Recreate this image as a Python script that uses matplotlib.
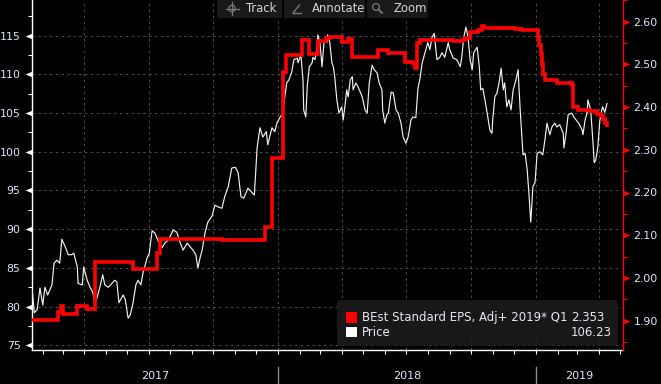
import matplotlib
matplotlib.use('Agg')
import matplotlib.pyplot as plt
import matplotlib.dates as mdates
import matplotlib.transforms as mtransforms
from matplotlib.path import Path
from matplotlib.patches import FancyBboxPatch, Rectangle, Circle
from matplotlib.ticker import MultipleLocator, FixedLocator
import numpy as np
import pandas as pd

# ---------------- data ----------------
price_dates = [
    "2017-01-17", "2017-01-20", "2017-01-24", "2017-01-28", "2017-02-01", "2017-02-04", "2017-02-08",
    "2017-02-14", "2017-02-17", "2017-02-21", "2017-02-25", "2017-02-28", "2017-03-05", "2017-03-09",
    "2017-03-14", "2017-03-17", "2017-03-22", "2017-03-23", "2017-03-29", "2017-03-31", "2017-04-05",
    "2017-04-09", "2017-04-13", "2017-04-16", "2017-04-19", "2017-04-23", "2017-04-27", "2017-04-30",
    "2017-05-05", "2017-05-10", "2017-05-14", "2017-05-17", "2017-05-20", "2017-05-26", "2017-05-29",
    "2017-06-02", "2017-06-05", "2017-06-09", "2017-06-13", "2017-06-16", "2017-06-20", "2017-06-23",
    "2017-06-29", "2017-07-02", "2017-07-06", "2017-07-10", "2017-07-14", "2017-07-20", "2017-07-24",
    "2017-07-29", "2017-08-05", "2017-08-10", "2017-08-15", "2017-08-19", "2017-08-25", "2017-08-29",
    "2017-09-02", "2017-09-06", "2017-09-09", "2017-09-12", "2017-09-15", "2017-09-19", "2017-09-23",
    "2017-09-29", "2017-10-03", "2017-10-07", "2017-10-13", "2017-10-17", "2017-10-22", "2017-10-27",
    "2017-11-01", "2017-11-05", "2017-11-09", "2017-11-13", "2017-11-19", "2017-11-25", "2017-11-28",
    "2017-12-02", "2017-12-06", "2017-12-10", "2017-12-15", "2017-12-17", "2017-12-23", "2017-12-27",
    "2017-12-30", "2018-01-03", "2018-01-08", "2018-01-10", "2018-01-13", "2018-01-16", "2018-01-20",
    "2018-01-23", "2018-01-28", "2018-01-29", "2018-02-02", "2018-02-05", "2018-02-06", "2018-02-09",
    "2018-02-11", "2018-02-14", "2018-02-18", "2018-02-19", "2018-02-22", "2018-02-25", "2018-02-26",
    "2018-03-01", "2018-03-04", "2018-03-07", "2018-03-11", "2018-03-12", "2018-03-15", "2018-03-18",
    "2018-03-20", "2018-03-22", "2018-03-25", "2018-03-28", "2018-04-01", "2018-04-03", "2018-04-06",
    "2018-04-08", "2018-04-10", "2018-04-13", "2018-04-16", "2018-04-17", "2018-04-21", "2018-04-24",
    "2018-04-30", "2018-05-04", "2018-05-07", "2018-05-10", "2018-05-14", "2018-05-17", "2018-05-21",
    "2018-05-24", "2018-05-28", "2018-05-29", "2018-06-01", "2018-06-04", "2018-06-06", "2018-06-10",
    "2018-06-13", "2018-06-17", "2018-06-20", "2018-06-24", "2018-06-27", "2018-07-01", "2018-07-04",
    "2018-07-05", "2018-07-08", "2018-07-11", "2018-07-15", "2018-07-18", "2018-07-21", "2018-07-24",
    "2018-07-28", "2018-08-01", "2018-08-04", "2018-08-07", "2018-08-10", "2018-08-14", "2018-08-18",
    "2018-08-21", "2018-08-25", "2018-08-30", "2018-09-01", "2018-09-06", "2018-09-11", "2018-09-16",
    "2018-09-18", "2018-09-21", "2018-09-24", "2018-09-27", "2018-09-30", "2018-10-03", "2018-10-05",
    "2018-10-10", "2018-10-13", "2018-10-15", "2018-10-18", "2018-10-21", "2018-10-24", "2018-10-28",
    "2018-10-31", "2018-11-01", "2018-11-04", "2018-11-07", "2018-11-10", "2018-11-13", "2018-11-16",
    "2018-11-18", "2018-11-21", "2018-11-24", "2018-11-27", "2018-11-30", "2018-12-04", "2018-12-07",
    "2018-12-10", "2018-12-13", "2018-12-14", "2018-12-17", "2018-12-20", "2018-12-22", "2018-12-25",
    "2018-12-28", "2018-12-31", "2019-01-03", "2019-01-07", "2019-01-11", "2019-01-14", "2019-01-17",
    "2019-01-21", "2019-01-24", "2019-01-28", "2019-01-31", "2019-02-04", "2019-02-09", "2019-02-10",
    "2019-02-13", "2019-02-16", "2019-02-21", "2019-02-24", "2019-03-01", "2019-03-03", "2019-03-08",
    "2019-03-09", "2019-03-12", "2019-03-15", "2019-03-16", "2019-03-20", "2019-03-23", "2019-03-25",
    "2019-03-27", "2019-03-30", "2019-04-02", "2019-04-05", "2019-04-06", "2019-04-09", "2019-04-12",
]
price_values = [
    82.1, 79.2, 79.6, 82.4, 80.2, 82.5, 81.5,
    82.8, 85.6, 86.0, 85.6, 88.7, 87.7, 86.7,
    86.7, 86.9, 85.1, 83.0, 82.8, 85.1, 83.4,
    82.5, 81.8, 80.5, 81.2, 82.5, 84.1, 82.8,
    82.5, 83.0, 83.4, 83.2, 80.5, 81.5, 80.9,
    78.5, 78.9, 80.5, 82.8, 83.4, 82.8, 84.3,
    86.3, 86.9, 89.8, 89.5, 88.6, 87.6, 88.2,
    88.6, 89.9, 89.6, 88.2, 87.3, 88.2, 87.7,
    87.3, 86.7, 85.0, 86.3, 87.3, 89.5, 90.9,
    91.7, 93.1, 92.9, 92.7, 94.2, 95.5, 97.9,
    98.0, 97.3, 94.2, 94.0, 95.3, 94.7, 94.4,
    100.6, 103.1, 101.9, 102.6, 100.9, 103.1, 102.6,
    103.7, 104.4, 105.1, 107.0, 108.9, 109.3, 110.3,
    111.9, 112.1, 111.5, 112.5, 109.3, 105.4, 104.5,
    108.4, 111.0, 111.5, 112.2, 111.9, 113.5, 115.1,
    114.1, 111.0, 114.4, 114.1, 115.1, 114.1, 111.5,
    111.0, 109.7, 106.7, 105.0, 105.8, 104.1, 106.3,
    108.0, 107.1, 109.3, 109.7, 108.0, 108.9, 108.4,
    107.1, 105.4, 105.0, 108.9, 111.2, 110.6, 110.2,
    108.9, 108.0, 105.4, 103.7, 104.8, 105.0, 107.7,
    107.6, 105.4, 105.0, 103.7, 101.9, 101.1, 101.9,
    102.4, 104.1, 104.5, 104.4, 108.2, 109.5, 111.5,
    112.8, 114.1, 113.2, 114.8, 115.3, 111.9, 112.2,
    112.8, 112.2, 114.1, 113.2, 112.1, 111.9, 111.0,
    112.1, 114.8, 116.1, 114.8, 111.9, 110.6, 112.8,
    113.5, 111.0, 108.0, 108.2, 106.7, 105.1, 102.8,
    102.4, 104.1, 107.1, 107.6, 108.9, 110.8, 108.0,
    108.9, 105.8, 106.7, 105.4, 108.0, 109.3, 110.6,
    105.4, 101.0, 99.6, 99.8, 97.6, 95.1, 90.9,
    95.5, 96.0, 99.8, 100.0, 99.6, 101.5, 103.7,
    102.2, 103.2, 103.7, 103.2, 103.5, 102.4, 100.5,
    102.4, 104.8, 105.0, 104.5, 103.9, 103.7, 102.8,
    102.2, 104.1, 105.1, 106.7, 105.4, 101.5, 98.6,
    98.9, 100.5, 104.1, 105.5, 105.8, 105.1, 106.23,
]

eps_dates = [
    "2017-01-17", "2017-02-23", "2017-02-27", "2017-03-02", "2017-03-22", "2017-04-05", "2017-04-16",
    "2017-06-09", "2017-07-13", "2017-07-17", "2017-10-13", "2017-12-13", "2017-12-23", "2018-01-08",
    "2018-01-12", "2018-02-04", "2018-02-14", "2018-02-26", "2018-03-10", "2018-03-15", "2018-04-01",
    "2018-04-10", "2018-04-16", "2018-05-22", "2018-06-06", "2018-06-30", "2018-07-10", "2018-07-14",
    "2018-07-17", "2018-07-21", "2018-09-06", "2018-09-18", "2018-09-23", "2018-09-30", "2018-10-11",
    "2018-10-17", "2018-10-20", "2018-12-03", "2018-12-13", "2019-01-04", "2019-01-06", "2019-01-08",
    "2019-01-10", "2019-01-12", "2019-01-14", "2019-01-31", "2019-02-21", "2019-02-23", "2019-03-02",
    "2019-03-19", "2019-03-29", "2019-04-03", "2019-04-06", "2019-04-09", "2019-04-12",
]
eps_values = [
    1.901, 1.921, 1.933, 1.915, 1.935, 1.927, 2.037,
    2.021, 2.058, 2.091, 2.088, 2.120, 2.281, 2.482,
    2.522, 2.558, 2.524, 2.555, 2.562, 2.565, 2.553,
    2.559, 2.518, 2.534, 2.526, 2.506, 2.503, 2.492,
    2.550, 2.558, 2.555, 2.558, 2.562, 2.576, 2.581,
    2.590, 2.585, 2.583, 2.581, 2.565, 2.545, 2.525,
    2.500, 2.478, 2.463, 2.456, 2.452, 2.401, 2.393,
    2.392, 2.385, 2.380, 2.372, 2.362, 2.353,
]

left_ticks = [75, 80, 85, 90, 95, 100, 105, 110, 115]
right_ticks = [1.90, 2.00, 2.10, 2.20, 2.30, 2.40, 2.50, 2.60]
years = [2017, 2018, 2019]
legend_eps_label = "BEst Standard EPS, Adj+ 2019* Q1"
legend_eps_last = "2.353"
legend_price_label = "Price"
legend_price_last = "106.23"
toolbar_labels = ["Track", "Annotate", "Zoom"]

# ---------------- styling ----------------
W, H = 661, 384
BG = "#000000"
TXT = "#dde6fb"
RED = "#ff0000"
GRID = "#4d4d4d"

plt.rcParams['font.family'] = ['DejaVu Sans']

fig = plt.figure(figsize=(W / 100, H / 100), dpi=100, facecolor=BG)
ax = fig.add_axes([32 / W, 34 / H, (623 - 32) / W, 350 / H])
ax.set_facecolor(BG)
ax2 = ax.twinx()

pdates = pd.to_datetime(price_dates)
edates = pd.to_datetime(eps_dates)

ax.plot(pdates, price_values, color="#f0f0f0", lw=0.85, zorder=3)
ax2.plot(edates, eps_values, color=RED, lw=2.6, drawstyle="steps-post",
         solid_joinstyle="miter", solid_capstyle="butt", zorder=4)

x0 = pd.Timestamp("2017-01-16 17:00")
x1 = pd.Timestamp("2019-05-04 19:00")
ax.set_xlim(x0, x1)
ax.set_ylim(74.39, 119.61)
ax2.set_ylim(1.831, 2.651)

# x axis: quarterly grid, monthly ticks
ax.xaxis.set_major_locator(mdates.MonthLocator(bymonth=[1, 4, 7, 10]))
ax.xaxis.set_minor_locator(mdates.MonthLocator())
ax.tick_params(axis="x", which="both", length=3, width=0.8, color="white",
               labelbottom=False, direction="out")

# left axis
ax.yaxis.set_major_locator(FixedLocator(left_ticks))
ax.yaxis.set_minor_locator(MultipleLocator(2.5))
ax.set_yticklabels([str(v) for v in left_ticks])
ax.tick_params(axis="y", which="major", length=0, pad=8.2, labelsize=7.9, labelcolor=TXT)
ax.tick_params(axis="y", which="minor", length=3, width=0.8, color="white")

# right axis
ax2.yaxis.set_major_locator(FixedLocator(right_ticks))
ax2.yaxis.set_minor_locator(MultipleLocator(0.05))
ax2.set_yticklabels([f"{v:.2f}" for v in right_ticks])
ax2.tick_params(axis="y", which="major", length=0, pad=7.5, labelsize=7.9, labelcolor=TXT)
ax2.tick_params(axis="y", which="minor", length=3, width=0.8, color=RED)

ax.grid(True, which="major", axis="both", color=GRID, lw=0.7, linestyle=(0, (2.5, 3.5)))
ax.set_axisbelow(True)

for s in ["top", "right"]:
    ax.spines[s].set_visible(False)
ax.spines["left"].set_color("white")
ax.spines["bottom"].set_color("white")
ax.spines["left"].set_linewidth(1.0)
ax.spines["bottom"].set_linewidth(1.0)
for s in ["top", "left", "bottom"]:
    ax2.spines[s].set_visible(False)
ax2.spines["right"].set_color(RED)
ax2.spines["right"].set_linewidth(1.0)

# triangle tick markers
tri_left = Path([(-1, 0), (0, 0.4), (0, -0.4), (-1, 0)],
                [Path.MOVETO, Path.LINETO, Path.LINETO, Path.CLOSEPOLY])
tri_right = Path([(1, 0), (0, 0.4), (0, -0.4), (1, 0)],
                 [Path.MOVETO, Path.LINETO, Path.LINETO, Path.CLOSEPOLY])
bl = mtransforms.blended_transform_factory(ax.transAxes, ax.transData)
ax.plot([0] * len(left_ticks), left_ticks, linestyle="none", marker=tri_left,
        markersize=10, color="white", markeredgewidth=0, transform=bl, clip_on=False, zorder=5)
br = mtransforms.blended_transform_factory(ax2.transAxes, ax2.transData)
ax2.plot([1] * len(right_ticks), right_ticks, linestyle="none", marker=tri_right,
         markersize=10, color=RED, markeredgewidth=0, transform=br, clip_on=False, zorder=5)

# year labels and separators
bx = mtransforms.blended_transform_factory(ax.transData, ax.transAxes)
lo_num, hi_num = mdates.date2num(x0), mdates.date2num(x1)
for yr in years:
    a = max(lo_num, mdates.date2num(pd.Timestamp(f"{yr}-01-01")))
    b = min(hi_num, mdates.date2num(pd.Timestamp(f"{yr + 1}-01-01")))
    ax.text((a + b) / 2, -0.074, str(yr), transform=bx, ha="center", va="center",
            fontsize=8, color=TXT, clip_on=False)
    sep = mdates.date2num(pd.Timestamp(f"{yr}-01-01"))
    if lo_num < sep < hi_num:
        ax.plot([sep, sep], [-0.049, -0.1], transform=bx, color="#8a8a8a", lw=1, clip_on=False)

# ---------------- overlay (toolbar + legend) in pixel coords ----------------
ov = fig.add_axes([0, 0, 1, 1], zorder=10)
ov.set_xlim(0, W)
ov.set_ylim(H, 0)
ov.axis("off")
ov.patch.set_alpha(0)

# toolbar
boxes = [(217, 282), (284, 365), (367, 428)]
text_x = [246.5, 311.5, 393]
for (bx0, bx1), lab, tx in zip(boxes, toolbar_labels, text_x):
    ov.add_patch(Rectangle((bx0, 0), bx1 - bx0, 18, facecolor="#1c1c1c", alpha=0.9,
                           edgecolor="none"))
    ov.text(tx, 8.8, lab, fontsize=8.4, color="#d6d6d6", ha="left", va="center")
ICON = "#7a7a7a"
ov.add_patch(Circle((232, 8.5), 3.2, fill=False, edgecolor=ICON, lw=0.9))
ov.plot([225.5, 238.5], [8.5, 8.5], color=ICON, lw=0.9)
ov.plot([232, 232], [2, 15], color=ICON, lw=0.9)
ov.plot([293, 299.5], [13, 5], color=ICON, lw=1.0)
ov.plot([293, 301], [13, 13], color=ICON, lw=1.0)
ov.add_patch(Circle((376, 7), 3.3, fill=False, edgecolor=ICON, lw=0.9))
ov.plot([378.5, 382], [9.5, 13], color=ICON, lw=1.3)

# legend
ov.add_patch(FancyBboxPatch((337, 300), 281, 45.7,
                            boxstyle="round,pad=0,rounding_size=3",
                            facecolor="#1a1a1a", edgecolor="none", alpha=0.95))
ov.add_patch(Rectangle((346, 312), 11, 10.5, facecolor=RED, edgecolor="none"))
ov.add_patch(Rectangle((346, 326.5), 11, 10.5, facecolor="white", edgecolor="none"))
LEG = "#e4e8f0"
ov.text(362, 317.5, legend_eps_label, fontsize=8.5, color=LEG, ha="left", va="center")
ov.text(605, 317.5, legend_eps_last, fontsize=8.5, color=LEG, ha="right", va="center")
ov.text(362, 332, legend_price_label, fontsize=8.5, color=LEG, ha="left", va="center")
ov.text(612, 332, legend_price_last, fontsize=8.5, color=LEG, ha="right", va="center")

fig.savefig("out.png", dpi=100, facecolor=BG)
